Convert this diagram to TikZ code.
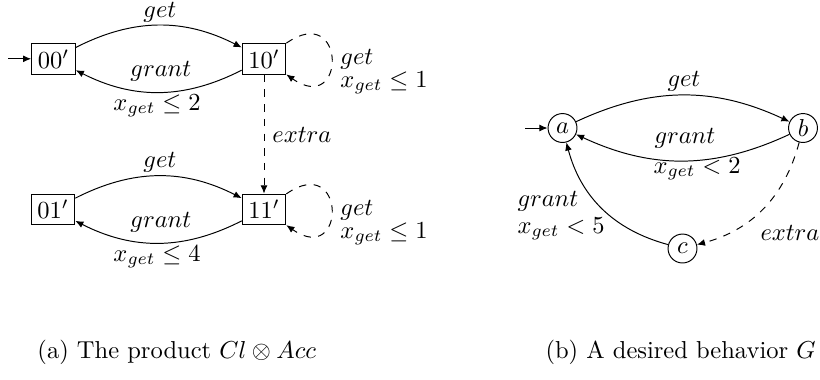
\documentclass[tikz,border=0pt]{standalone}
\usetikzlibrary{arrows.meta}
\begin{document}
\begin{tikzpicture}[x=0.408pt,y=-0.408pt,
  >={Latex[length=3.3pt,width=2.8pt]},
  st/.style={draw,rectangle,minimum width=17.8pt,minimum height=12.6pt,inner sep=1pt},
  cst/.style={draw,circle,minimum size=11.8pt,inner sep=0pt},
  lbl/.style={inner sep=0pt,anchor=base west},
  tr/.style={->},
  dtr/.style={->,dashed}]
\useasboundingbox (0,0) rectangle (820,379);
% left automaton
\node[st] (n00) at (53.5,58.8) {$00'$};
\node[st] (n10) at (264,58.8) {$10'$};
\node[st] (n01) at (53,209.5) {$01'$};
\node[st] (n11) at (264,209.5) {$11'$};
\coordinate (i0) at (8,58.8);
\draw[tr] (i0) -- (n00);
\draw[tr] (n00) to[bend left=27] (n10);
\draw[tr] (n10) to[bend left=27] (n00);
\draw[dtr] (n10) to[out=35,in=-35,min distance=30pt] (n10);
\draw[dtr] (n10) -- (n11);
\draw[tr] (n01) to[bend left=27] (n11);
\draw[tr] (n11) to[bend left=27] (n01);
\draw[dtr] (n11) to[out=35,in=-35,min distance=30pt] (n11);
\node[lbl] (l1) at (143,17) {$get$};
\node[lbl] (l2) at (130,76) {$grant$};
\node[lbl] (l3) at (113,110) {$x_{get}\leq 2$};
\node[lbl] (l4) at (340,64) {$get$};
\node[lbl] (l5) at (340,87) {$x_{get}\leq 1$};
\node[lbl] (l6) at (272,142) {$extra$};
\node[lbl] (l7) at (143,167) {$get$};
\node[lbl] (l8) at (130,227) {$grant$};
\node[lbl] (l9) at (113,261) {$x_{get}\leq 4$};
\node[lbl] (l10) at (340,215) {$get$};
\node[lbl] (l11) at (340,238) {$x_{get}\leq 1$};
% right automaton
\node[cst] (a) at (562.5,128) {$a$};
\node[cst] (b) at (803,128) {$b$};
\node[cst] (c) at (682.5,248.5) {$c$};
\coordinate (i1) at (525,128);
\draw[tr] (i1) -- (a);
\draw[tr] (a) to[bend left=25] (b);
\draw[tr] (b) to[bend left=25] (a);
\draw[dtr] (b) to[bend left=30] (c);
\draw[tr] (c) to[bend left=30] (a);
\node[lbl] (r1) at (667,86) {$get$};
\node[lbl] (r2) at (654,143) {$grant$};
\node[lbl] (r3) at (653,173) {$x_{get}<2$};
\node[lbl] (r4) at (517,206) {$grant$};
\node[lbl] (r5) at (517,233) {$x_{get}<5$};
\node[lbl] (r6) at (760,240) {$extra$};
% captions
\node[lbl] (capa) at (37,358) {(a) The product $Cl\otimes Acc$};
\node[lbl] (capb) at (545,358) {(b) A desired behavior $G$};
\end{tikzpicture}
\end{document}
